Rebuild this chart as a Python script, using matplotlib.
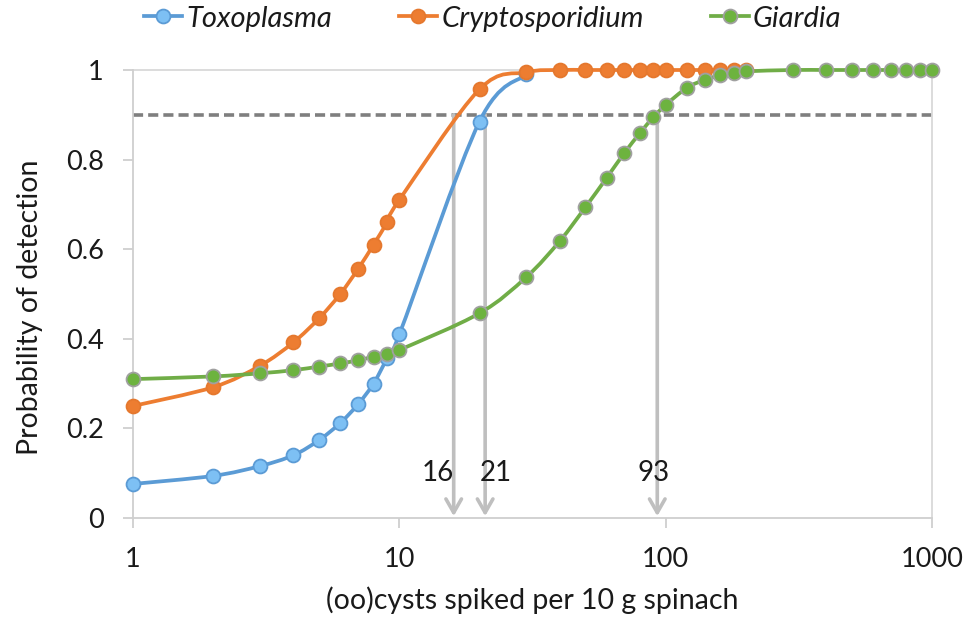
import numpy as np
import matplotlib
matplotlib.use("Agg")
import matplotlib.pyplot as plt
from matplotlib.path import Path
from matplotlib.patches import PathPatch, FancyArrowPatch, ArrowStyle
from matplotlib.lines import Line2D

# ---------------- data ----------------
toxo_x = [1, 2, 3, 4, 5, 6, 7, 8, 9, 10, 20, 30]
toxo_y = [0.076, 0.094, 0.116, 0.140, 0.174, 0.212, 0.254, 0.300, 0.357, 0.410, 0.885, 0.990]

crypto_x = [1, 2, 3, 4, 5, 6, 7, 8, 9, 10, 20, 30, 40, 50, 60, 70, 80, 90, 100,
            120, 140, 160, 180, 200]
crypto_y = [0.250, 0.292, 0.340, 0.392, 0.446, 0.500, 0.556, 0.610, 0.660, 0.710,
            0.957, 0.995, 1.0, 1.0, 1.0, 1.0, 1.0, 1.0, 1.0, 1.0, 1.0, 1.0, 1.0, 1.0]

giardia_x = [1, 2, 3, 4, 5, 6, 7, 8, 9, 10, 20, 30, 40, 50, 60, 70, 80, 90, 100,
             120, 140, 160, 180, 200, 300, 400, 500, 600, 700, 800, 900, 1000]
giardia_y = [0.310, 0.316, 0.323, 0.330, 0.338, 0.345, 0.352, 0.360, 0.366, 0.375,
             0.457, 0.538, 0.618, 0.694, 0.759, 0.815, 0.859, 0.895, 0.922,
             0.960, 0.978, 0.988, 0.993, 0.997, 1.0, 1.0, 1.0, 1.0, 1.0, 1.0, 1.0, 1.0]

threshold = 0.9
lod_values = [16, 21, 93]
lod_labels = ["16", "21", "93"]

series_names = ["Toxoplasma", "Cryptosporidium", "Giardia"]

# ---------------- style ----------------
FONT = "Lato"
plt.rcParams['font.family'] = [FONT, 'DejaVu Sans']
TXT = '#1a1a1a'

fig = plt.figure(figsize=(9.66, 6.17), dpi=100)
ax = fig.add_axes([133/966, 1-518/617, (932-133)/966, (518-70)/617])
ax.set_xscale('log')
ax.set_xlim(1, 1000)
ax.set_ylim(0, 1)


def smooth_path(xs, ys):
    """Excel-like smoothed line: cubic Bezier through points (computed in log-x space)."""
    lx = np.log10(np.asarray(xs, float))
    y = np.asarray(ys, float)
    n = len(lx)
    verts = [(xs[0], y[0])]
    codes = [Path.MOVETO]
    for i in range(n - 1):
        i0 = max(i - 1, 0)
        i3 = min(i + 2, n - 1)
        c1x = lx[i] + (lx[i + 1] - lx[i0]) / 6.0
        c1y = y[i] + (y[i + 1] - y[i0]) / 6.0
        c2x = lx[i + 1] - (lx[i3] - lx[i]) / 6.0
        c2y = y[i + 1] - (y[i3] - y[i]) / 6.0
        verts += [(10 ** c1x, c1y), (10 ** c2x, c2y), (xs[i + 1], y[i + 1])]
        codes += [Path.CURVE4] * 3
    return Path(verts, codes)


styles = [
    dict(line='#5B9BD5', face='#7DC0F4', edge='#5B9BD5'),
    dict(line='#ED7D31', face='#ED7D31', edge='#E5782E'),
    dict(line='#70AD47', face='#6DB33F', edge='#A0A0A0'),
]
data = [(toxo_x, toxo_y), (crypto_x, crypto_y), (giardia_x, giardia_y)]

LW = 2.7
MS = 10

# threshold line
ax.plot([1, 1000], [threshold, threshold], color='#7F7F7F', lw=2.6,
        ls=(0, (2.8, 1.4)), zorder=2, clip_on=False)

handles = []
for (xs, ys), st, name in zip(data, styles, series_names):
    p = PathPatch(smooth_path(xs, ys), fill=False, edgecolor=st['line'], lw=LW,
                  zorder=3, clip_on=False, capstyle='round', joinstyle='round')
    ax.add_patch(p)
    ax.plot(xs, ys, ls='none', marker='o', ms=MS, mfc=st['face'], mec=st['edge'],
            mew=1.3, zorder=4, clip_on=False)
    handles.append(Line2D([], [], color=st['line'], lw=LW, marker='o', ms=MS,
                          mfc=st['face'], mec=st['edge'], mew=1.3, label=name))

# vertical arrows
arrow_col = '#BFBFBF'
for xv in lod_values:
    arr = FancyArrowPatch((xv, threshold), (xv, 0.004),
                          arrowstyle=ArrowStyle('->', head_length=0.7, head_width=0.4),
                          mutation_scale=14, color=arrow_col, lw=2.6,
                          shrinkA=0, shrinkB=0, zorder=2.5)
    ax.add_patch(arr)

label_offsets = [(0, 'right'), (-4, 'left'), (-3, 'center')]
for xv, lab, (dx, ha) in zip(lod_values, lod_labels, label_offsets):
    ax.annotate(lab, xy=(xv, 0.10), xytext=(dx, 0), textcoords='offset points',
                ha=ha, va='center', fontsize=20, color=TXT, zorder=5)

# spines / ticks
for s in ['left', 'bottom', 'right', 'top']:
    ax.spines[s].set_color('#CFCFCF')
    ax.spines[s].set_linewidth(1.3)
ax.spines['top'].set_color('#D9D9D9')
ax.spines['right'].set_color('#D9D9D9')
ax.spines['top'].set_zorder(1)

ax.set_xticks([1, 10, 100, 1000])
ax.set_xticklabels(['1', '10', '100', '1000'])
ax.xaxis.set_minor_locator(matplotlib.ticker.NullLocator())
ax.set_yticks([0, 0.2, 0.4, 0.6, 0.8, 1.0])
ax.set_yticklabels(['0', '0.2', '0.4', '0.6', '0.8', '1'])
ax.tick_params(axis='x', direction='out', length=7, width=1.3, color='#CFCFCF',
               pad=14, labelsize=19.5, labelcolor=TXT)
ax.tick_params(axis='y', direction='out', length=7, width=1.3, color='#CFCFCF',
               pad=14, labelsize=19.5, labelcolor=TXT)

ax.set_xlabel('(oo)cysts spiked per 10 g spinach', fontsize=20.5, color=TXT, labelpad=10)
ax.set_ylabel('Probability of detection', fontsize=20.5, color=TXT)
ax.yaxis.set_label_coords(-90/799, 0.47)

leg = fig.legend(handles=handles, loc='center', bbox_to_anchor=(0.51, 0.970), ncol=3,
                 frameon=False, handlelength=1.3, handletextpad=0.15, columnspacing=2.3,
                 prop=dict(family=[FONT, 'DejaVu Sans'], style='italic', size=21))
for t in leg.get_texts():
    t.set_color(TXT)

fig.savefig('out.png', dpi=100)
